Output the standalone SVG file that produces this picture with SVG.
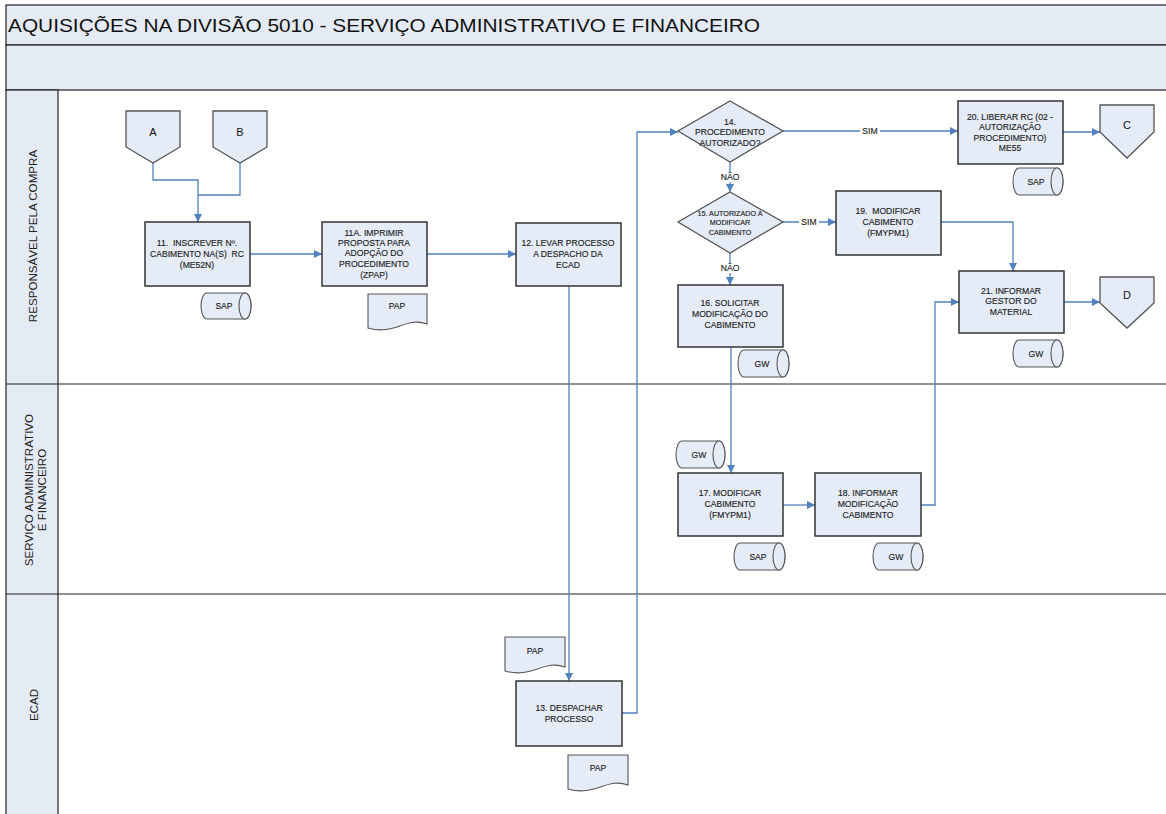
<svg xmlns="http://www.w3.org/2000/svg" width="1166" height="814" viewBox="0 0 1166 814">
  <style>
    .band { fill: #e5ebf5; stroke: #222; stroke-width: 1.2; }
    .lane { fill: none; stroke: #222; stroke-width: 1.2; }
    .box { fill: #e5ecf7; stroke: #333; stroke-width: 1.5; }
    .dec { fill: #e5ecf7; stroke: #555; stroke-width: 1.3; }
    .off { fill: #e5ecf7; stroke: #555; stroke-width: 1.3; }
    .cyl { fill: #e5ecf7; stroke: #555; stroke-width: 1.1; }
    .doc { fill: #e5ecf7; stroke: #555; stroke-width: 1.1; }
    .t { font-family: "Liberation Sans", Arial, sans-serif; font-size: 8.6px; fill: #1e1e1e; stroke: #1e1e1e; stroke-width: 0.15; text-anchor: middle; white-space: pre; }
    .ts { font-family: "Liberation Sans", Arial, sans-serif; font-size: 7.2px; fill: #1e1e1e; stroke: #1e1e1e; stroke-width: 0.15; text-anchor: middle; }
    .tl { font-family: "Liberation Sans", Arial, sans-serif; font-size: 11px; fill: #111; text-anchor: middle; }
    .lane-t { font-family: "Liberation Sans", Arial, sans-serif; font-size: 11.6px; fill: #222; text-anchor: middle; }
    .title { font-family: "Liberation Sans", Arial, sans-serif; font-size: 18.5px; fill: #111; }
    .conn { fill: none; stroke: #4f81bd; stroke-width: 1.3; }
    .lbl-bg { fill: #ffffff; }
  </style>
  <defs>
    <marker id="arrow" markerUnits="userSpaceOnUse" markerWidth="9" markerHeight="9" refX="8" refY="4" orient="auto">
      <path d="M0,0 L8,4 L0,8 Z" fill="#4f81bd"/>
    </marker>
  </defs>

  <!-- page background and swimlane frame -->
  <rect x="0" y="0" width="1166" height="814" fill="#ffffff"/>
  <g id="frame">
    <rect class="band" x="6" y="5" width="1170" height="40"/>
    <rect class="band" x="6" y="45" width="1170" height="45"/>
    <rect class="band" x="6" y="90" width="52" height="740"/>
    <line class="lane" x1="6" y1="384" x2="1170" y2="384"/>
    <line class="lane" x1="6" y1="594" x2="1170" y2="594"/>
    <text class="title" x="8" y="32" textLength="752" lengthAdjust="spacingAndGlyphs">AQUISIÇÕES NA DIVISÃO 5010 - SERVIÇO ADMINISTRATIVO E FINANCEIRO</text>
  </g>

  <!-- lane headers -->
  <g id="lane-compra">
    <text class="lane-t" transform="translate(37,236) rotate(-90)">RESPONSÁVEL PELA COMPRA</text>
  </g>
  <g id="lane-saf">
    <text class="lane-t" transform="translate(33,490) rotate(-90)">SERVIÇO ADMINISTRATIVO</text>
    <text class="lane-t" transform="translate(46,490) rotate(-90)">E FINANCEIRO</text>
  </g>
  <g id="lane-ecad">
    <text class="lane-t" transform="translate(38,705) rotate(-90)">ECAD</text>
  </g>

  <!-- connectors -->
  <g id="connectors">
    <path class="conn" d="M153,163 V180 H198 V222" marker-end="url(#arrow)"/>
    <path class="conn" d="M240,163 V195 H198"/>
    <path class="conn" d="M250,254 H322" marker-end="url(#arrow)"/>
    <path class="conn" d="M427,254 H516" marker-end="url(#arrow)"/>
    <path class="conn" d="M569,286 V681" marker-end="url(#arrow)"/>
    <path class="conn" d="M622,713 H637 V132 H678" marker-end="url(#arrow)"/>
    <path class="conn" d="M783,131 H958" marker-end="url(#arrow)"/>
    <path class="conn" d="M730,162 V192" marker-end="url(#arrow)"/>
    <path class="conn" d="M783,222 H836" marker-end="url(#arrow)"/>
    <path class="conn" d="M730,253 V285" marker-end="url(#arrow)"/>
    <path class="conn" d="M731,347 V473" marker-end="url(#arrow)"/>
    <path class="conn" d="M783,505 H815" marker-end="url(#arrow)"/>
    <path class="conn" d="M921,505 H935 V302 H959" marker-end="url(#arrow)"/>
    <path class="conn" d="M941,222 H1013 V271" marker-end="url(#arrow)"/>
    <path class="conn" d="M1063,132 H1100" marker-end="url(#arrow)"/>
    <path class="conn" d="M1064,302 H1100" marker-end="url(#arrow)"/>
    <!-- branch labels -->
    <rect class="lbl-bg" x="860" y="126" width="20" height="10"/>
    <text class="t" x="870" y="134">SIM</text>
    <rect class="lbl-bg" x="720" y="172" width="20" height="10"/>
    <text class="t" x="730" y="180">NÃO</text>
    <rect class="lbl-bg" x="799" y="217" width="20" height="10"/>
    <text class="t" x="809" y="225">SIM</text>
    <rect class="lbl-bg" x="720" y="263" width="20" height="10"/>
    <text class="t" x="730" y="271">NÃO</text>
  </g>

  <!-- off-page connectors -->
  <g id="conn-A">
    <path class="off" d="M126,111 H180 V147 L153,163 L126,147 Z"/>
    <text class="tl" x="153" y="136">A</text>
  </g>
  <g id="conn-B">
    <path class="off" d="M213,111 H267 V147 L240,163 L213,147 Z"/>
    <text class="tl" x="240" y="136">B</text>
  </g>
  <g id="conn-C">
    <path class="off" d="M1100,105 H1154 V132 L1127,158 L1100,132 Z"/>
    <text class="tl" x="1127" y="129">C</text>
  </g>
  <g id="conn-D">
    <path class="off" d="M1100,277 H1154 V303 L1127,328 L1100,303 Z"/>
    <text class="tl" x="1127" y="299">D</text>
  </g>

  <!-- process steps -->
  <g id="step-11">
    <rect class="box" x="145" y="222" width="105" height="64"/>
    <text class="t" x="197" y="246">11.  INSCREVER Nº.</text>
    <text class="t" x="197" y="257">CABIMENTO NA(S)  RC</text>
    <text class="t" x="197" y="268">(ME52N)</text>
  </g>
  <g id="sys-11">
    <path class="cyl" d="M207,293 H245 A6,13 0 0 1 245,319 H207 A6,13 0 0 1 207,293 Z"/>
    <ellipse class="cyl" cx="245" cy="306" rx="6" ry="13"/>
    <text class="t" x="224" y="309">SAP</text>
  </g>

  <g id="step-11A">
    <rect class="box" x="322" y="222" width="105" height="64"/>
    <text class="t" x="374" y="236">11A. IMPRIMIR</text>
    <text class="t" x="374" y="246">PROPOSTA PARA</text>
    <text class="t" x="374" y="256">ADOPÇÃO DO</text>
    <text class="t" x="374" y="267">PROCEDIMENTO</text>
    <text class="t" x="374" y="278">(ZPAP)</text>
  </g>
  <g id="doc-11A">
    <path class="doc" d="M368,294 H427 V324 C406,316 395,336 368,328 Z"/>
    <text class="t" x="397" y="309">PAP</text>
  </g>

  <g id="step-12">
    <rect class="box" x="516" y="223" width="105" height="63"/>
    <text class="t" x="568" y="246">12. LEVAR PROCESSO</text>
    <text class="t" x="568" y="257">A DESPACHO DA</text>
    <text class="t" x="568" y="268">ECAD</text>
  </g>

  <g id="doc-13-in">
    <path class="doc" d="M505,637 H565 V667 C544,659 532,679 505,671 Z"/>
    <text class="t" x="535" y="654">PAP</text>
  </g>
  <g id="step-13">
    <rect class="box" x="516" y="681" width="106" height="65"/>
    <text class="t" x="569" y="711">13. DESPACHAR</text>
    <text class="t" x="569" y="722">PROCESSO</text>
  </g>
  <g id="doc-13-out">
    <path class="doc" d="M568,755 H628 V785 C607,777 595,797 568,789 Z"/>
    <text class="t" x="598" y="771">PAP</text>
  </g>

  <g id="decision-14">
    <path class="dec" d="M730,101 L783,131 L730,162 L678,131 Z"/>
    <text class="t" x="730" y="125">14.</text>
    <text class="t" x="730" y="135">PROCEDIMENTO</text>
    <text class="t" x="730" y="146">AUTORIZADO?</text>
  </g>

  <g id="decision-15">
    <path class="dec" d="M730,192 L783,222 L730,253 L678,222 Z"/>
    <text class="ts" x="730" y="215.5">15. AUTORIZADO A</text>
    <text class="ts" x="730" y="224.5">MODIFICAR</text>
    <text class="ts" x="730" y="234.5">CABIMENTO</text>
  </g>

  <g id="step-16">
    <rect class="box" x="678" y="285" width="105" height="62"/>
    <text class="t" x="730" y="306">16. SOLICITAR</text>
    <text class="t" x="730" y="317">MODIFICAÇÃO DO</text>
    <text class="t" x="730" y="328">CABIMENTO</text>
  </g>
  <g id="sys-16">
    <path class="cyl" d="M744,350 H783 A6,13.5 0 0 1 783,377 H744 A6,13.5 0 0 1 744,350 Z"/>
    <ellipse class="cyl" cx="783" cy="363.5" rx="6" ry="13.5"/>
    <text class="t" x="762" y="366.5">GW</text>
  </g>

  <g id="sys-17-in">
    <path class="cyl" d="M682,441 H719 A6,13.5 0 0 1 719,468 H682 A6,13.5 0 0 1 682,441 Z"/>
    <ellipse class="cyl" cx="719" cy="454.5" rx="6" ry="13.5"/>
    <text class="t" x="699" y="457.5">GW</text>
  </g>
  <g id="step-17">
    <rect class="box" x="678" y="473" width="105" height="63"/>
    <text class="t" x="730" y="496">17. MODIFICAR</text>
    <text class="t" x="730" y="507">CABIMENTO</text>
    <text class="t" x="730" y="518">(FMYPM1)</text>
  </g>
  <g id="sys-17">
    <path class="cyl" d="M740,543 H779 A6,13.5 0 0 1 779,570 H740 A6,13.5 0 0 1 740,543 Z"/>
    <ellipse class="cyl" cx="779" cy="556.5" rx="6" ry="13.5"/>
    <text class="t" x="758" y="559.5">SAP</text>
  </g>

  <g id="step-18">
    <rect class="box" x="815" y="473" width="106" height="63"/>
    <text class="t" x="868" y="496">18. INFORMAR</text>
    <text class="t" x="868" y="507">MODIFICAÇÃO</text>
    <text class="t" x="868" y="518">CABIMENTO</text>
  </g>
  <g id="sys-18">
    <path class="cyl" d="M879,543 H917 A6,13.5 0 0 1 917,570 H879 A6,13.5 0 0 1 879,543 Z"/>
    <ellipse class="cyl" cx="917" cy="556.5" rx="6" ry="13.5"/>
    <text class="t" x="896" y="559.5">GW</text>
  </g>

  <g id="step-19">
    <rect class="box" x="836" y="191" width="105" height="64"/>
    <text class="t" x="888" y="214">19.  MODIFICAR</text>
    <text class="t" x="888" y="225">CABIMENTO</text>
    <text class="t" x="888" y="236">(FMYPM1)</text>
  </g>

  <g id="step-20">
    <rect class="box" x="958" y="101" width="105" height="63"/>
    <text class="t" x="1010" y="120">20. LIBERAR RC (02 -</text>
    <text class="t" x="1010" y="130">AUTORIZAÇÃO</text>
    <text class="t" x="1010" y="140.5">PROCEDIMENTO)</text>
    <text class="t" x="1010" y="151">ME55</text>
  </g>
  <g id="sys-20">
    <path class="cyl" d="M1019,168 H1057 A6,13.5 0 0 1 1057,195 H1019 A6,13.5 0 0 1 1019,168 Z"/>
    <ellipse class="cyl" cx="1057" cy="181.5" rx="6" ry="13.5"/>
    <text class="t" x="1036" y="184.5">SAP</text>
  </g>

  <g id="step-21">
    <rect class="box" x="959" y="271" width="105" height="62"/>
    <text class="t" x="1011" y="294">21. INFORMAR</text>
    <text class="t" x="1011" y="304">GESTOR DO</text>
    <text class="t" x="1011" y="315">MATERIAL</text>
  </g>
  <g id="sys-21">
    <path class="cyl" d="M1019,340 H1057 A6,13.5 0 0 1 1057,367 H1019 A6,13.5 0 0 1 1019,340 Z"/>
    <ellipse class="cyl" cx="1057" cy="353.5" rx="6" ry="13.5"/>
    <text class="t" x="1036" y="356.5">GW</text>
  </g>
</svg>
